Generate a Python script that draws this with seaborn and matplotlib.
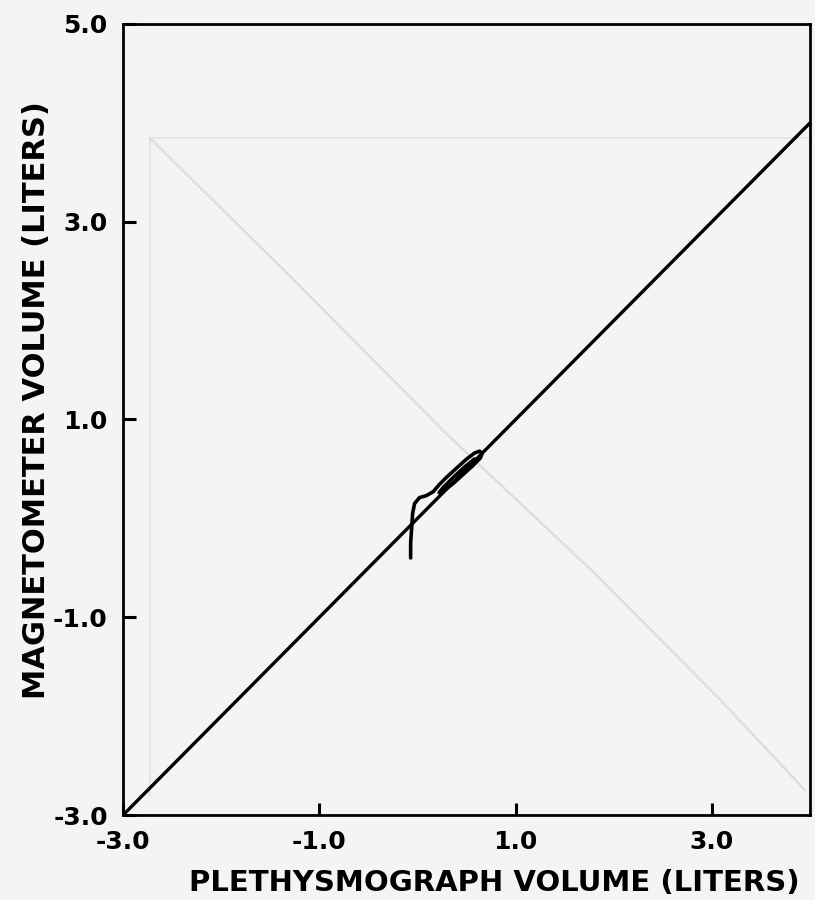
import numpy as np
import pandas as pd
import matplotlib
matplotlib.use("Agg")
import matplotlib.pyplot as plt
import seaborn as sns

# Identity reference line (liters)
ref_x = [-3.0, 4.0]
ref_y = [-3.0, 4.0]

# Recorded trace: plethysmograph vs magnetometer volume (liters)
trace_x = [-0.07, -0.07, -0.06, -0.05, -0.03, 0.02, 0.09, 0.16, 0.22, 0.30,
           0.40, 0.50, 0.58, 0.63, 0.66, 0.64, 0.56, 0.46, 0.36, 0.27, 0.22,
           0.26, 0.36, 0.48, 0.58]
trace_y = [-0.40, -0.25, -0.10, 0.05, 0.15, 0.21, 0.23, 0.27, 0.34, 0.42,
           0.51, 0.60, 0.66, 0.68, 0.66, 0.61, 0.53, 0.44, 0.35, 0.28, 0.26,
           0.31, 0.41, 0.52, 0.60]

# faint show-through from the facing page
ghost_box_x = [-2.73, -2.73, 4.0]
ghost_box_y = [-2.8, 3.85, 3.85]
ghost_diag_x = [-2.73, -1.3, 0.3, 1.8, 3.1, 3.95]
ghost_diag_y = [3.85, 2.45, 0.85, -0.55, -1.85, -2.75]

x_ticks = [-3.0, -1.0, 1.0, 3.0]
y_ticks = [-3.0, -1.0, 1.0, 3.0, 5.0]


def main():
    sns.set_theme(style="ticks")
    plt.rcParams['font.family'] = ['DejaVu Sans']
    plt.rcParams['font.weight'] = 'bold'
    plt.rcParams['text.color'] = 'black'
    plt.rcParams['axes.labelcolor'] = 'black'

    fig = plt.figure(figsize=(8.15, 9.0), dpi=100)
    fig.patch.set_facecolor('#f4f4f4')
    ax = fig.add_axes([0.151, 0.0944, 0.843, 0.879])
    ax.set_facecolor('#f4f4f4')

    ref = pd.DataFrame({'x': ref_x, 'y': ref_y})
    trace = pd.DataFrame({'x': trace_x, 'y': trace_y})

    # ghost lines first, underneath
    ax.plot(ghost_box_x, ghost_box_y, color='#e4e4e4', lw=1.5, zorder=1)
    ax.plot(ghost_diag_x, ghost_diag_y, color='#dedede', lw=1.8, zorder=1)

    sns.lineplot(data=ref, x='x', y='y', ax=ax, color='black', lw=2.4,
                 sort=False, estimator=None, zorder=3)
    sns.lineplot(data=trace, x='x', y='y', ax=ax, color='black', lw=2.6,
                 sort=False, estimator=None, zorder=4)

    ax.set_xlim(-3.0, 4.0)
    ax.set_ylim(-3.0, 5.0)
    ax.set_xticks(x_ticks)
    ax.set_yticks(y_ticks)
    ax.set_xticklabels([f"{t:.1f}" for t in x_ticks])
    ax.set_yticklabels([f"{t:.1f}" for t in y_ticks])

    ax.tick_params(axis='both', direction='in', length=9, width=2.2,
                   labelsize=18, colors='black')
    ax.tick_params(axis='x', pad=11)
    ax.tick_params(axis='y', pad=11)
    for lab in ax.get_xticklabels() + ax.get_yticklabels():
        lab.set_fontweight('bold')

    for side in ['left', 'right', 'top', 'bottom']:
        ax.spines[side].set_visible(True)
        ax.spines[side].set_linewidth(2.0)
        ax.spines[side].set_color('black')

    ax.set_xlabel('PLETHYSMOGRAPH VOLUME (LITERS)', fontsize=21,
                  fontweight='bold', color='black')
    ax.set_ylabel('MAGNETOMETER VOLUME (LITERS)', fontsize=22,
                  fontweight='bold', color='black')
    ax.xaxis.set_label_coords(0.54, -0.068)
    ax.yaxis.set_label_coords(-0.105, 0.525)

    plt.savefig('out.png', dpi=100, facecolor=fig.get_facecolor())


if __name__ == "__main__":
    main()
